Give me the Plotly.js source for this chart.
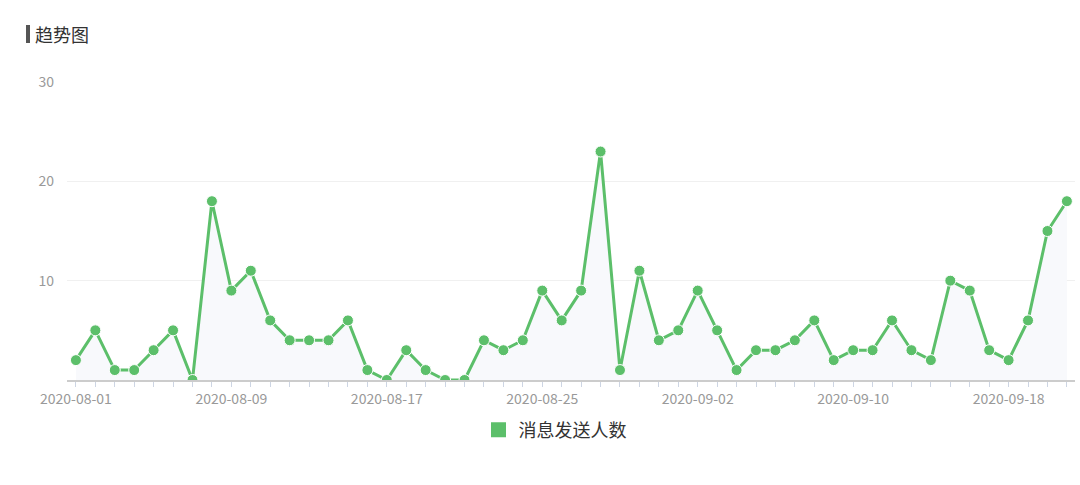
<!DOCTYPE html>
<html>
<head>
<meta charset="utf-8">
<script src="https://cdn.plot.ly/plotly-3.0.1.min.js"></script>
<style>
  html, body { margin: 0; padding: 0; background: #fff; }
  #chart { width: 1080px; height: 485px; }
</style>
</head>
<body>
<div id="chart"></div>
<script>
// data (one point per day)
const startDate = '2020-08-01';
const seriesName = '消息发送人数';
const sendCounts = [
    2, 5, 1, 1, 3, 5, 0, 18, 9, 11,
    6, 4, 4, 4, 6, 1, 0, 3, 1, 0,
    0, 4, 3, 4, 9, 6, 9, 23, 1, 11,
    4, 5, 9, 5, 1, 3, 3, 4, 6, 2,
    3, 3, 6, 3, 2, 10, 9, 3, 2, 6,
    15, 18
];
const yTicks = [10, 20, 30];

const DAY = 86400000;

// build the date strings for each day
const dates = sendCounts.map((v, i) => {
    const d = new Date(Date.parse(startDate + 'T00:00:00Z') + i * DAY);
    return d.toISOString().slice(0, 10);
});

const green = '#5cbf6a';
const cjk = '"Noto Sans CJK SC", "Noto Sans", sans-serif';

const traces = [
    {
        x: dates,
        y: sendCounts,
        type: 'scatter',
        mode: 'lines+markers',
        fill: 'tozeroy',
        fillcolor: '#f8f9fc',
        line: { color: green, width: 3 },
        marker: { color: green, size: 11, line: { color: '#fff', width: 1 } },
        showlegend: false,
        hoverinfo: 'x+y'
    },
    {
        // legend-only entry, square swatch like the original
        x: [null],
        y: [null],
        type: 'scatter',
        mode: 'markers',
        name: seriesName,
        marker: { color: green, size: 15, symbol: 'square' }
    }
];

const W = 1008, H = 298; // plot area in px
const layout = {
    width: 1080,
    height: 485,
    margin: { l: 67, r: 5, t: 82, b: 105 },
    paper_bgcolor: '#fff',
    plot_bgcolor: '#fff',
    font: { family: cjk, color: '#999', size: 14 },
    xaxis: {
        type: 'date',
        range: ['2020-07-31 13:00', '2020-09-21 10:00'],
        tick0: startDate,
        dtick: 8 * DAY,
        tickformat: '%Y-%m-%d',
        ticks: 'outside',
        ticklen: 5,
        tickcolor: '#cdd5e3',
        tickfont: { color: '#999', size: 14, family: cjk },
        showgrid: false,
        showline: true,
        linecolor: '#cccccc',
        linewidth: 2,
        zeroline: false,
        fixedrange: true,
        minor: {
            tick0: startDate,
            dtick: DAY,
            ticks: 'outside',
            ticklen: 5,
            tickcolor: '#cdd5e3',
            showgrid: false
        }
    },
    yaxis: {
        range: [0, 30],
        tickvals: yTicks,
        ticktext: yTicks.map(String),
        showgrid: true,
        gridcolor: '#f0f0f0',
        gridwidth: 1,
        zeroline: false,
        showline: false,
        ticks: '',
        ticklabelstandoff: 12,
        tickfont: { color: '#999', size: 14, family: cjk },
        fixedrange: true
    },
    showlegend: true,
    legend: {
        orientation: 'h',
        x: (555 - 67) / W,
        xanchor: 'center',
        y: (380 - 430) / H,
        yanchor: 'middle',
        font: { color: '#333', size: 18, family: cjk },
        itemwidth: 30
    },
    annotations: [
        {
            text: '趋势图',
            xref: 'paper', yref: 'paper',
            x: (33 - 67) / W, y: (380 - 34) / H,
            xanchor: 'left', yanchor: 'middle',
            showarrow: false,
            font: { color: '#333', size: 18, family: cjk }
        }
    ],
    shapes: [
        {
            type: 'rect',
            xref: 'paper', yref: 'paper',
            x0: (26 - 67) / W, x1: (30 - 67) / W,
            y0: (380 - 43) / H, y1: (380 - 25) / H,
            fillcolor: '#555',
            line: { width: 0 }
        }
    ]
};

Plotly.newPlot('chart', traces, layout, { displayModeBar: false, staticPlot: true });
</script>
</body>
</html>
